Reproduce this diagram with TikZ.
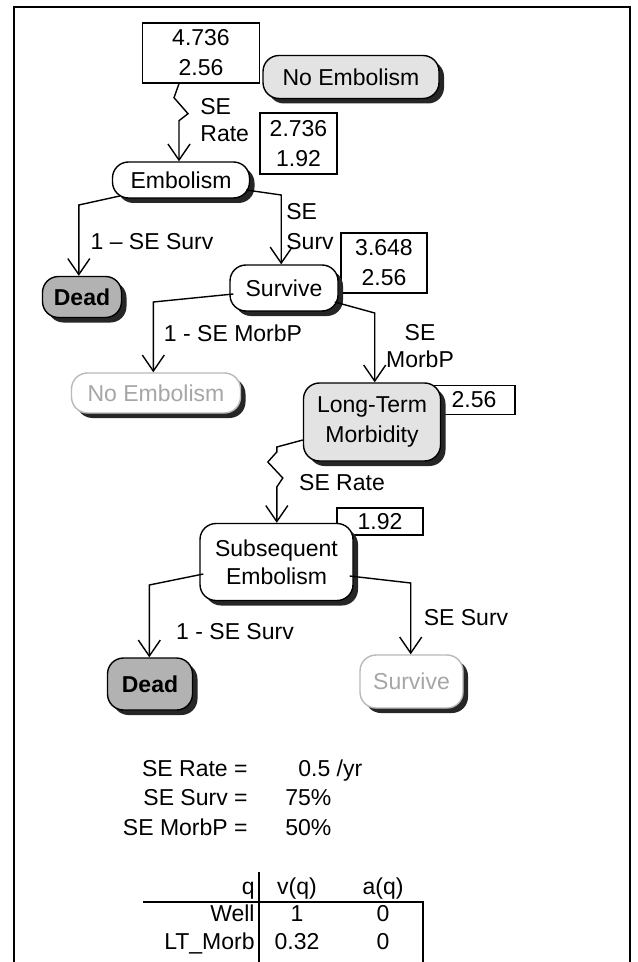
\documentclass[tikz,border=0pt]{standalone}
\usepackage{fontspec}
\setmainfont{Liberation Sans}
\usetikzlibrary{arrows.meta,shadows}

\tikzset{
  state/.style={draw, line width=0.7pt, rounded corners=8pt, inner sep=0pt, align=center,
    drop shadow={shadow xshift=2.5pt, shadow yshift=-2.5pt, fill=black!85, opacity=1}},
  chance/.style={state, fill=white},
  tunnel/.style={state, fill=gray!22},
  deadnode/.style={state, fill=gray!60, font=\fontsize{11.5}{13.5}\selectfont\bfseries},
  faded/.style={state, fill=white, draw=gray!55, text=gray!70},
  valbox/.style={draw, line width=0.7pt, fill=white, inner sep=0pt, align=center,
    font=\fontsize{11.5}{15}\selectfont},
  arr/.style={line width=0.7pt, -{Straight Barb[length=8pt,width=11pt,line width=0.7pt]}},
  lbl/.style={inner sep=0pt, align=left},
}

\begin{document}
\begin{tikzpicture}[x=0.5pt, y=-0.5pt, font=\fontsize{11.5}{13.5}\selectfont]
    \useasboundingbox (0,0) rectangle (637,962);
    \draw[line width=0.8pt] (14,962) -- (14,7) -- (630,7) -- (630,962);

    % values and states
    \node[valbox, minimum width=58.5pt, minimum height=30pt] (box1) at (201,53) {4.736\\2.56};
    \node[tunnel, minimum width=88pt, minimum height=21.5pt] (noemb) at (351,77) {No Embolism};
    \node[valbox, minimum width=38.5pt, minimum height=30.5pt] (box2) at (298.5,143.5) {2.736\\1.92};
    \node[chance, minimum width=68.5pt, minimum height=18pt] (embol) at (181,180) {Embolism};
    \node[deadnode, minimum width=39.5pt, minimum height=20.5pt] (dead1) at (82,297) {Dead};
    \node[valbox, minimum width=43pt, minimum height=30pt] (box3) at (384,263) {3.648\\2.56};
    \node[chance, minimum width=54pt, minimum height=23pt] (surv1) at (284,288) {Survive};
    \node[faded, minimum width=84.5pt, minimum height=20pt] (noembB) at (156,393) {No Embolism};
    \node[valbox, minimum width=41pt, minimum height=14.5pt] (box4) at (474,400) {2.56};
    \node[tunnel, minimum width=68.5pt, minimum height=39pt, font=\fontsize{11.5}{15}\selectfont] (ltm) at (372,422) {Long-Term\\Morbidity};
    \node[valbox, minimum width=43pt, minimum height=13.5pt] (box5) at (380,521.5) {1.92};
    \node[chance, minimum width=76.5pt, minimum height=38.5pt, font=\fontsize{11.5}{14}\selectfont] (subemb) at (276.5,562) {Subsequent\\Embolism};
    \node[deadnode, minimum width=42.5pt, minimum height=26pt] (dead2) at (150,684) {Dead};
    \node[faded, minimum width=51.5pt, minimum height=26.5pt] (survB) at (411.5,681.5) {Survive};

    % transitions
    \draw[arr] ([xshift=-11pt]box1.south) -- ++(-5,14) -- ++(14,16) -- ++(-9,7) coordinate (z1) -- (z1 |- embol.north);
    \draw[arr] ([xshift=4pt,yshift=-8pt]embol.west) -- ++(-41,9) coordinate (b1) -- (b1 |- dead1.north);
    \draw[arr] ([xshift=-2pt,yshift=-5pt]embol.east) -- ++(35,5) coordinate (b2) -- (b2 |- surv1.north);
    \draw[arr] ([xshift=2pt,yshift=-3pt]surv1.west) -- ++(-80,8) coordinate (b3) -- (b3 |- noembB.north);
    \draw[arr] ([xshift=-2pt,yshift=-7pt]surv1.east) -- ++(40,11) coordinate (b4) -- (b4 |- ltm.north);
    \draw[arr] ([yshift=-9pt]ltm.west) -- ++(-26,7) -- ++(0,5) -- ++(-9,10) -- ++(15,16) -- ++(-6,9) coordinate (z2) -- (z2 |- subemb.north);
    \draw[arr] ([xshift=2pt,yshift=-6pt]subemb.west) -- ++(-54,11) coordinate (b5) -- (b5 |- dead2.north);
    \draw[arr] ([xshift=-2pt,yshift=-7pt]subemb.east) -- ++(61,7) coordinate (b6) -- (b6 |- survB.north);

    \node[lbl, anchor=west] (lrate) at (200,120) {SE\\Rate};
    \node (lsurv1) at (152,242) {1 -- SE Surv};
    \node[lbl, anchor=west, font=\fontsize{11.5}{15}\selectfont] (lsurv2) at (286,227) {SE\\Surv};
    \node (lmorb1) at (233,333) {1 - SE MorbP};
    \node[align=center] (lmorb2) at (420,346) {SE\\MorbP};
    \node (lrate2) at (342,483) {SE Rate};
    \node (lsurv3) at (235,632) {1 - SE Surv};
    \node (lsurv4) at (466,618) {SE Surv};

    % parameters
    \node[anchor=base east, inner sep=0pt] (prate) at (248,776) {SE Rate =};
    \node[anchor=base west, inner sep=0pt] (vrate) at (298,776) {0.5 /yr};
    \node[anchor=base east, inner sep=0pt] (psurv) at (248,805) {SE Surv =};
    \node[anchor=base west, inner sep=0pt] (vsurv) at (285,805) {75\%};
    \node[anchor=base east, inner sep=0pt] (pmorb) at (248,835) {SE MorbP =};
    \node[anchor=base west, inner sep=0pt] (vmorb) at (285,835) {50\%};

    % table of q
    \draw[line width=0.8pt] (259,872) -- (259,962);
    \draw[line width=0.8pt] (143,902) -- (423,902) -- (423,962);
    \node[anchor=base east, inner sep=0pt] (hq) at (255,894) {q};
    \node[anchor=base, inner sep=0pt] (hv) at (297,894) {v(q)};
    \node[anchor=base, inner sep=0pt] (ha) at (383,894) {a(q)};
    \node[anchor=base east, inner sep=0pt] (rwell) at (255,921) {Well};
    \node[anchor=base, inner sep=0pt] (vwell) at (297,921) {1};
    \node[anchor=base, inner sep=0pt] (awell) at (383,921) {0};
    \node[anchor=base east, inner sep=0pt] (rltm) at (255,949) {LT\_Morb};
    \node[anchor=base, inner sep=0pt] (vltm) at (297,949) {0.32};
    \node[anchor=base, inner sep=0pt] (altm) at (383,949) {0};
\end{tikzpicture}
\end{document}
